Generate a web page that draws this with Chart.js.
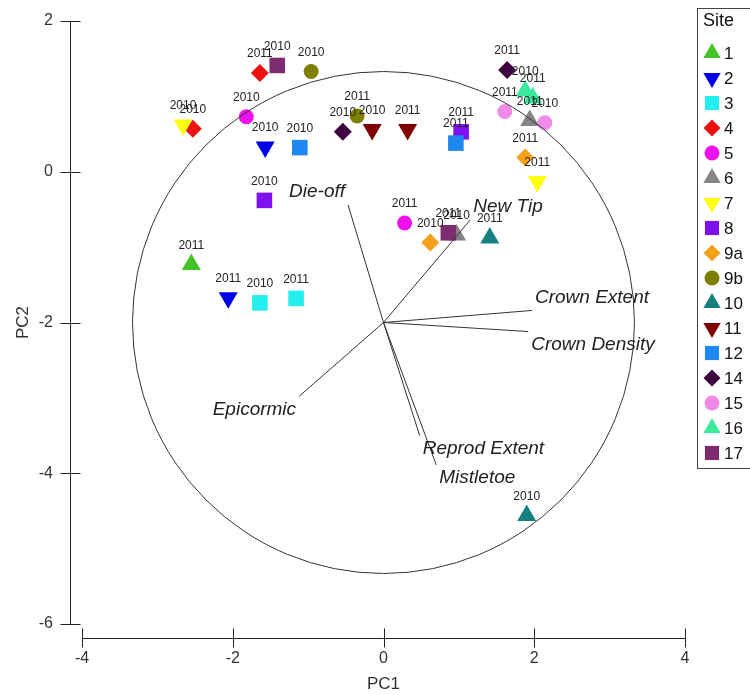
<!DOCTYPE html>
<html><head><meta charset="utf-8">
<script src="https://cdn.jsdelivr.net/npm/chart.js@4/dist/chart.umd.min.js"></script>
<style>html,body{margin:0;padding:0;background:#fff;overflow:hidden}#wrap{width:750px;height:695px;position:relative}</style>
</head><body><div id="wrap"><canvas id="c" width="750" height="695"></canvas></div>
<script>
// ---- data ----
const sites = ['1','2','3','4','5','6','7','8','9a','9b','10','11','12','14','15','16','17'];
const siteColors = ['#44c424','#0000e6','#22eeee','#ee1111','#ee11ee','#858585','#ffff10','#7f10f0','#f5a01a','#808000','#168080','#800000','#1e88f0','#3f003f','#f08ae8','#3cea9c','#7e2c70'];
const siteShapes = ['triangle','triangleDown','rect','rectRot','circle','triangle','triangleDown','rect','rectRot','circle','triangle','triangleDown','rect','rectRot','circle','triangle','rect'];
const pc1_2010 = [null, -1.57, -1.64, -2.53, -1.82, 0.97, -2.66, -1.58, 0.62, -0.96, 1.90, -0.15, -1.11, -0.54, 2.14, 1.88, -1.41];
const pc2_2010 = [null, 0.33, -1.74, 0.57, 0.73, -0.84, 0.62, -0.38, -0.94, 1.33, -4.56, 0.56, 0.32, 0.53, 0.65, 1.07, 1.41];
const pc1_2011 = [-2.55, -2.06, -1.16, -1.64, 0.28, 1.94, 2.04, 1.03, 1.88, -0.35, 1.41, 0.32, 0.96, 1.64, 1.61, 1.98, 0.86];
const pc2_2011 = [-1.23, -1.67, -1.68, 1.31, -0.68, 0.68, -0.13, 0.53, 0.19, 0.74, -0.88, 0.56, 0.38, 1.35, 0.80, 0.98, -0.81];
const years = ['2010','2011'];
const vecNames = ['Crown Extent','Crown Density','Epicormic','Reprod Extent','Mistletoe','Die-off','New Tip'];
const vecPC1 = [1.97, 1.92, -1.12, 0.48, 0.70, -0.47, 1.15];
const vecPC2 = [-1.84, -2.12, -2.98, -3.50, -3.89, -0.44, -0.64];
const biplotOrigin = [0, -2];
const circleRadius = 3.33;
const xTicks = [-4, -2, 0, 2, 4];
const yTicks = [2, 0, -2, -4, -6];

const FONT = '"Liberation Sans", Arial, sans-serif';
const sizeFor = {triangle:11, triangleDown:11, rect:11, rectRot:9, circle:7.5};

// ---- datasets ----
const datasets = sites.map((s, i) => {
  const pts = [];
  if (pc1_2010[i] !== null) pts.push({x: pc1_2010[i], y: pc2_2010[i], year: years[0]});
  if (pc1_2011[i] !== null) pts.push({x: pc1_2011[i], y: pc2_2011[i], year: years[1]});
  const shp = siteShapes[i];
  return {
    type: 'scatter', label: s, data: pts, order: -i,
    backgroundColor: siteColors[i], borderColor: siteColors[i], borderWidth: 0,
    pointStyle: shp === 'triangleDown' ? 'triangle' : shp,
    rotation: shp === 'triangleDown' ? 180 : 0,
    pointRadius: sizeFor[shp], pointHoverRadius: sizeFor[shp],
    isSite: true
  };
});
vecNames.forEach((n, i) => {
  datasets.push({
    type: 'line', label: n, isVector: true, order: -100,
    data: [{x: biplotOrigin[0], y: biplotOrigin[1]}, {x: vecPC1[i], y: vecPC2[i]}],
    borderColor: '#333', borderWidth: 1, pointRadius: 0, fill: false, tension: 0
  });
});

function drawMarker(ctx, shape, r, x, y) {
  ctx.beginPath();
  if (shape === 'circle') { ctx.arc(x, y, r, 0, Math.PI * 2); }
  else if (shape === 'triangle') {
    ctx.moveTo(x, y - r); ctx.lineTo(x + 0.866 * r, y + 0.5 * r); ctx.lineTo(x - 0.866 * r, y + 0.5 * r);
  } else if (shape === 'triangleDown') {
    ctx.moveTo(x, y + r); ctx.lineTo(x + 0.866 * r, y - 0.5 * r); ctx.lineTo(x - 0.866 * r, y - 0.5 * r);
  } else if (shape === 'rect') {
    const h = r * Math.SQRT1_2; ctx.rect(x - h, y - h, 2 * h, 2 * h);
  } else if (shape === 'rectRot') {
    ctx.moveTo(x, y - r); ctx.lineTo(x + r, y); ctx.lineTo(x, y + r); ctx.lineTo(x - r, y);
  }
  ctx.closePath(); ctx.fill();
}

const overlay = {
  id: 'overlay',
  afterDatasetsDraw(chart) {
    const ctx = chart.ctx, xs = chart.scales.x, ys = chart.scales.y, ca = chart.chartArea;
    ctx.save();
    // correlation circle
    const cx = xs.getPixelForValue(biplotOrigin[0]), cy = ys.getPixelForValue(biplotOrigin[1]);
    const rad = xs.getPixelForValue(biplotOrigin[0] + circleRadius) - cx;
    ctx.strokeStyle = '#333'; ctx.lineWidth = 1;
    ctx.beginPath(); ctx.arc(cx, cy, rad, 0, Math.PI * 2); ctx.stroke();
    // vector labels
    ctx.fillStyle = '#222'; ctx.font = 'italic 19px ' + FONT; ctx.textBaseline = 'middle';
    vecNames.forEach((n, i) => {
      const ex = xs.getPixelForValue(vecPC1[i]), ey = ys.getPixelForValue(vecPC2[i]);
      const dx = vecPC1[i] - biplotOrigin[0], dy = vecPC2[i] - biplotOrigin[1];
      ctx.textAlign = dx >= 0 ? 'left' : 'right';
      ctx.fillText(n, ex + (dx >= 0 ? 3 : -3), ey + (dy > 0 ? -13 : 13));
    });
    // year labels
    ctx.font = '12px ' + FONT; ctx.textAlign = 'center'; ctx.fillStyle = '#222';
    chart.data.datasets.forEach((ds, di) => {
      if (!ds.isSite) return;
      const meta = chart.getDatasetMeta(di);
      meta.data.forEach((el, j) => { ctx.fillText(ds.data[j].year, el.x, el.y - 19); });
    });
    // axes (offset range-frame style)
    ctx.strokeStyle = '#222'; ctx.lineWidth = 1;
    const ax = Math.round(ca.left - 12) + 0.5;
    ctx.beginPath();
    ctx.moveTo(ax, ys.getPixelForValue(yTicks[0])); ctx.lineTo(ax, ys.getPixelForValue(yTicks[yTicks.length - 1]));
    yTicks.forEach(v => { const p = Math.round(ys.getPixelForValue(v)) + 0.5; ctx.moveTo(ax - 10, p); ctx.lineTo(ax + 10, p); });
    const ay = Math.round(ca.bottom + 14) + 0.5;
    ctx.moveTo(xs.getPixelForValue(xTicks[0]), ay); ctx.lineTo(xs.getPixelForValue(xTicks[xTicks.length - 1]), ay);
    xTicks.forEach(v => { const p = Math.round(xs.getPixelForValue(v)) + 0.5; ctx.moveTo(p, ay - 10); ctx.lineTo(p, ay + 9); });
    ctx.stroke();
    // legend
    ctx.strokeStyle = '#444'; ctx.lineWidth = 1;
    ctx.strokeRect(697.5, 8.5, 90, 460);
    ctx.fillStyle = '#111'; ctx.textAlign = 'left'; ctx.textBaseline = 'middle';
    ctx.font = '18px ' + FONT; ctx.fillText('Site', 703, 21);
    ctx.font = '17px ' + FONT;
    sites.forEach((s, i) => {
      const y = 53 + i * 25;
      ctx.fillStyle = siteColors[i];
      drawMarker(ctx, siteShapes[i], siteShapes[i] === 'circle' ? 7.5 : (siteShapes[i] === 'rectRot' ? 8.5 : 10), 712, y);
      ctx.fillStyle = '#111';
      ctx.fillText(s, 724, y + 1);
    });
    ctx.restore();
  }
};

new Chart(document.getElementById('c'), {
  type: 'scatter',
  data: { datasets },
  options: {
    responsive: false, animation: false, devicePixelRatio: 1,
    layout: { padding: { left: 0, top: 21, right: 65, bottom: 0 } },
    plugins: { legend: { display: false }, tooltip: { enabled: false } },
    scales: {
      x: {
        type: 'linear', min: -4, max: 4,
        ticks: { stepSize: 2, padding: 25, color: '#333', font: { size: 16, family: FONT } },
        grid: { display: false, drawTicks: false }, border: { display: false },
        title: { display: true, text: 'PC1', color: '#333', font: { size: 17, family: FONT }, padding: { top: 0, bottom: 0 } },
        afterFit: s => { s.height = 71; s.paddingLeft = 10; s.paddingRight = 10; }
      },
      y: {
        type: 'linear', min: -6, max: 2,
        ticks: { stepSize: 2, padding: 29, color: '#333', font: { size: 16, family: FONT } },
        grid: { display: false, drawTicks: false }, border: { display: false },
        title: { display: true, text: 'PC2', color: '#333', font: { size: 17, family: FONT }, padding: { top: 13, bottom: 0 } },
        afterFit: s => { s.width = 82; s.paddingTop = 10; s.paddingBottom = 10; }
      }
    }
  },
  plugins: [overlay]
});
</script>
</body></html>
